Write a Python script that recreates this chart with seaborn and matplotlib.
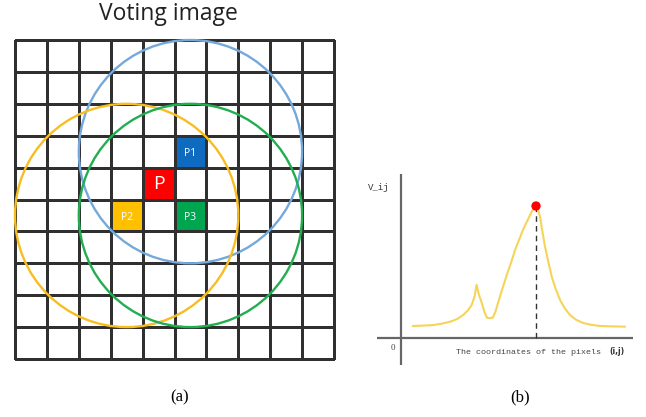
import matplotlib
matplotlib.use("Agg")
import matplotlib.pyplot as plt
from matplotlib.colors import ListedColormap
from matplotlib.patches import Circle
import numpy as np
import pandas as pd
import seaborn as sns

# ---------------- data ----------------
grid_size = 10
cell_names = ["P", "P1", "P2", "P3"]
cell_cols = [4, 5, 3, 5]
cell_rows = [4, 3, 5, 5]
cell_colors = ["#FF0000", "#0F6BC0", "#FFC000", "#00A550"]

circle_centers_col = [5.5, 3.5, 5.5]
circle_centers_row = [3.5, 5.5, 5.5]
circle_radius = [3.5, 3.5, 3.5]
circle_colors = ["#74A9DA", "#F7BE22", "#22AE50"]

curve_x = [5.2, 10.0, 14.2, 18.0, 21.8, 25.0, 27.6, 29.8, 31.4, 32.7, 33.6,
           34.6, 35.9, 37.0, 38.2, 39.5, 40.8, 42.0, 43.1, 45.0, 47.0, 49.0,
           50.7, 52.5, 54.2, 56.2, 58.1, 59.2, 60.0, 60.9, 61.8, 62.8, 64.0,
           65.5, 67.0, 68.8, 70.7, 72.8, 75.1, 77.8, 80.9, 84.5, 88.4, 94.0, 99.6]
curve_v = [9.1, 9.4, 9.8, 10.8, 12.3, 14.4, 17.4, 21.0, 25.0, 31.5, 40.2,
           33.0, 26.5, 20.0, 15.4, 15.0, 15.4, 20.0, 26.5, 37.0, 47.7, 57.5,
           66.7, 74.5, 81.8, 89.0, 95.7, 98.6, 100.0, 97.0, 91.9, 81.0, 69.2,
           57.5, 46.4, 37.0, 28.8, 22.5, 17.4, 13.8, 11.4, 10.0, 9.1, 8.8, 8.6]
peak_x = [60.0]
peak_v = [100.0]

title_text = "Voting image"
y_label = "V_ij"
x_label = "The coordinates of the pixels"
x_label_suffix = "(i,j)"
origin_label = "0"
captions = ["(a)", "(b)"]

# ---------------- figure ----------------
sns.set_style("white")
plt.rcParams["font.family"] = ["DejaVu Sans"]

W, H = 646, 417
fig = plt.figure(figsize=(W / 100, H / 100), dpi=100)


def fx(px):
    return px / W


def fy(py):
    return 1 - py / H


# ----- left panel: voting image -----
grid_codes = np.zeros((grid_size, grid_size), dtype=int)
for k, (c, r) in enumerate(zip(cell_cols, cell_rows)):
    grid_codes[r, c] = k + 1
cmap = ListedColormap(["#FFFFFF"] + cell_colors)

axL = fig.add_axes([fx(15), fy(359), fx(334) - fx(15), fy(40) - fy(359)])
sns.heatmap(pd.DataFrame(grid_codes), ax=axL, cmap=cmap, vmin=-0.5,
            vmax=len(cell_colors) + 0.5, cbar=False, linewidths=0.9,
            linecolor="#303030", xticklabels=False, yticklabels=False,
            square=False)
for coll in axL.collections:
    coll.set_clip_on(False)
axL.set_xlim(0, grid_size)
axL.set_ylim(grid_size, 0)
axL.set_xlabel("")
axL.set_ylabel("")
for s in axL.spines.values():
    s.set_visible(False)

for cx, cy, r, col in zip(circle_centers_col, circle_centers_row,
                          circle_radius, circle_colors):
    axL.add_patch(Circle((cx, cy), r, fill=False, edgecolor=col, lw=1.7,
                         clip_on=False, zorder=5))

for name, c, r in zip(cell_names, cell_cols, cell_rows):
    big = name == "P"
    axL.text(c + 0.5, r + 0.5 + (0.0 if big else 0.05), name, color="white",
             ha="center", va="center",
             fontsize=14 if big else 7.5, family="Open Sans", zorder=6)

fig.text(fx(168), fy(14), title_text, ha="center", va="center",
         fontsize=16.5, family="Open Sans", color="#222222")

# ----- right panel: V_ij curve -----
x_left_px, x_zero_px, x_right_px = 377, 401, 633
y_top_px, y_zero_px, y_bot_px = 174, 338, 365
sx, sy = 2.25, 1.32

axR = fig.add_axes([fx(x_left_px), fy(y_bot_px), fx(x_right_px) - fx(x_left_px),
                    fy(y_top_px) - fy(y_bot_px)])
axR.set_xlim((x_left_px - x_zero_px) / sx, (x_right_px - x_zero_px) / sx)
axR.set_ylim((y_zero_px - y_bot_px) / sy, (y_zero_px - y_top_px) / sy)
axR.axis("off")
axR.axhline(0, color="#666666", lw=1.6, zorder=1)
axR.axvline(0, color="#666666", lw=1.6, zorder=1)

curve_df = pd.DataFrame({"x": curve_x, "v": curve_v})
sns.lineplot(data=curve_df, x="x", y="v", ax=axR, color="#F6D458", lw=1.5,
             sort=False, zorder=3)
axR.vlines(peak_x, 0, peak_v, colors="#333333", linestyles=(0, (4, 3)),
           lw=1.0, zorder=2)
sns.scatterplot(x=peak_x, y=peak_v, ax=axR, color="#FF0000", s=45,
                edgecolor="none", zorder=4)
axR.set_xlabel("")
axR.set_ylabel("")

fig.text(fx(379), fy(187), y_label, ha="center", va="center", fontsize=6.5,
         family="Liberation Mono", color="#333333")
fig.text(fx(393), fy(348), origin_label, ha="center", va="center",
         fontsize=6.5, family="Liberation Serif", color="#444444")
fig.text(fx(528), fy(353), x_label, ha="center", va="center", fontsize=6.0,
         family="Liberation Mono", color="#444444")
fig.text(fx(617), fy(352), x_label_suffix, ha="center", va="center",
         fontsize=5.5, family="DejaVu Sans", weight="bold", color="#333333")

# ----- captions -----
fig.text(fx(180), fy(397), captions[0], ha="center", va="center",
         fontsize=12, family="Liberation Serif", color="black")
fig.text(fx(520), fy(397), captions[1], ha="center", va="center",
         fontsize=12, family="Liberation Serif", color="black")

fig.savefig("out.png", dpi=100)
